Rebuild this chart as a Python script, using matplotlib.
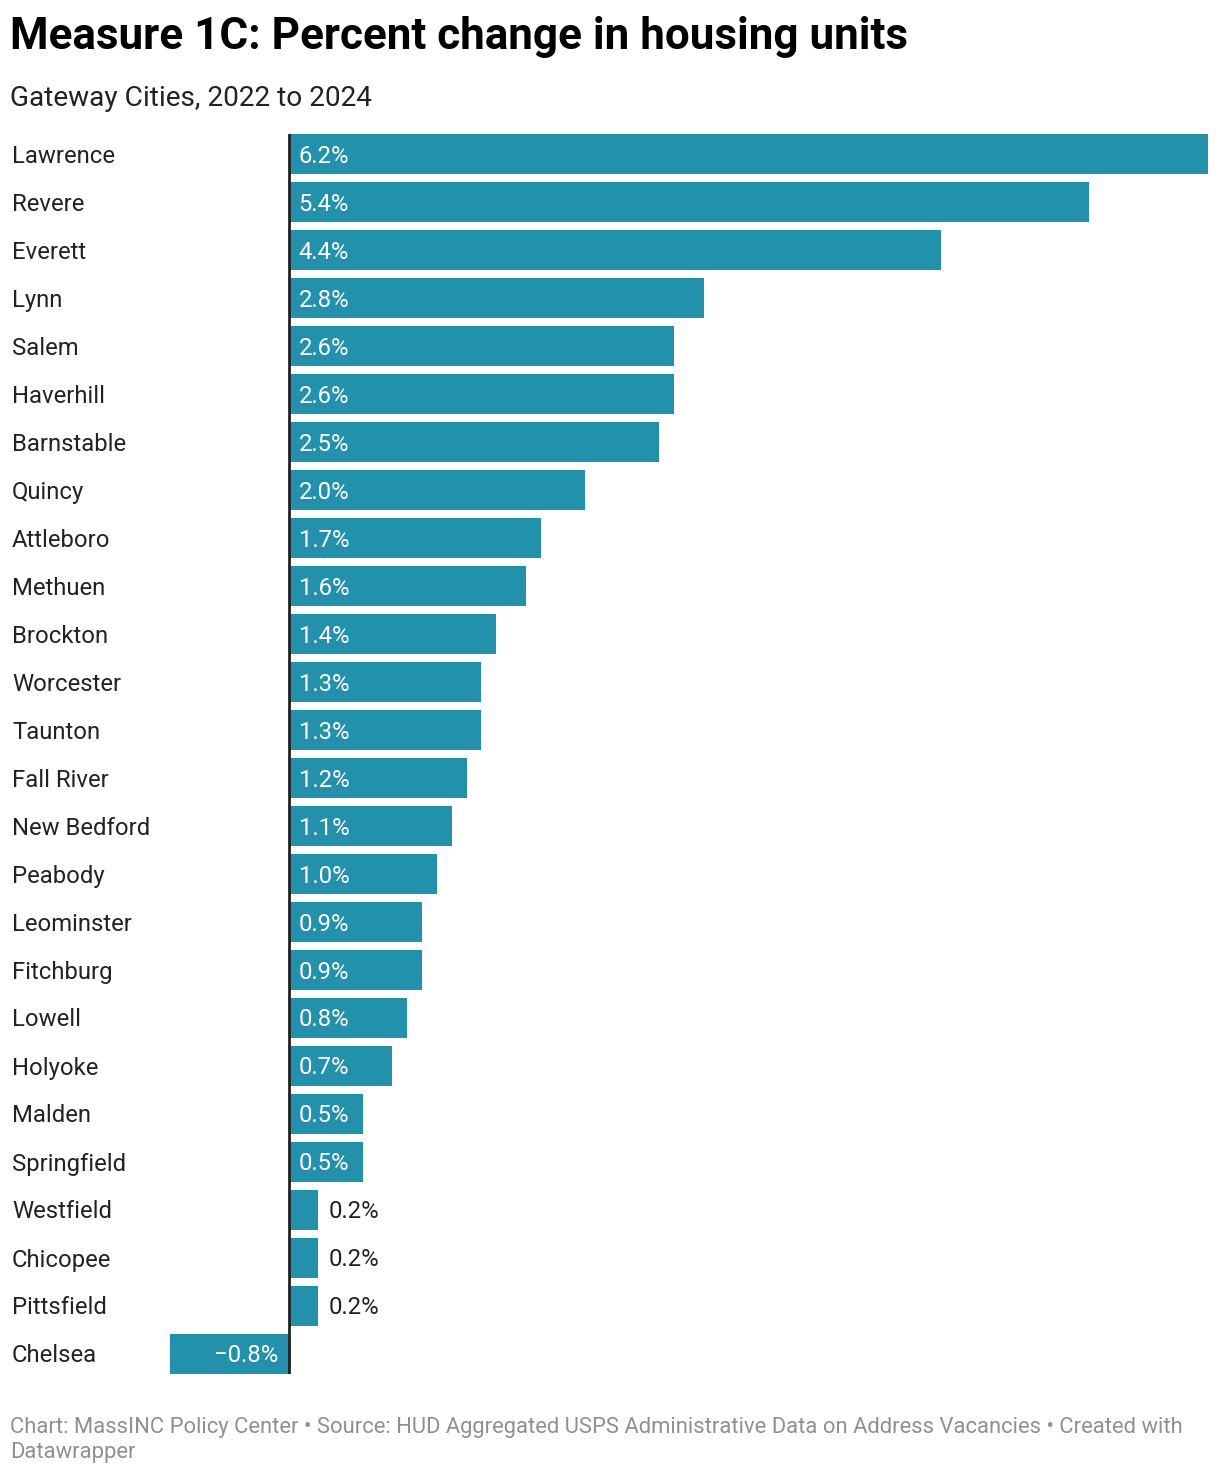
import matplotlib.pyplot as plt
import matplotlib.transforms as mtransforms

plt.rcParams['font.family'] = ['Roboto', 'DejaVu Sans']

cities = ["Lawrence", "Revere", "Everett", "Lynn", "Salem", "Haverhill",
          "Barnstable", "Quincy", "Attleboro", "Methuen", "Brockton",
          "Worcester", "Taunton", "Fall River", "New Bedford", "Peabody",
          "Leominster", "Fitchburg", "Lowell", "Holyoke", "Malden",
          "Springfield", "Westfield", "Chicopee", "Pittsfield", "Chelsea"]
change = [6.2, 5.4, 4.4, 2.8, 2.6, 2.6, 2.5, 2.0, 1.7, 1.6, 1.4, 1.3, 1.3,
          1.2, 1.1, 1.0, 0.9, 0.9, 0.8, 0.7, 0.5, 0.5, 0.2, 0.2, 0.2, -0.8]

W, H = 1220, 1476
bar_color = "#2390ac"
fig = plt.figure(figsize=(W / 100, H / 100), dpi=100)

# axes placed in pixel terms: x 170..1208, y 134..1374
ax = fig.add_axes([170 / W, 1 - 1374 / H, 1038 / W, 1240 / H])
ypos = list(range(len(cities)))
ax.barh(ypos, change, height=40 / 48, color=bar_color)
ax.set_xlim(-0.8, 6.2)
ax.set_ylim(len(cities) - 1 + 20 / 48, -20 / 48)
ax.axvline(0, color="#222222", lw=2)
ax.axis("off")

px = ax.transData.transform((1, 0))[0] - ax.transData.transform((0, 0))[0]
dpi_tr = fig.dpi_scale_trans
down = -2 / 100
off = mtransforms.ScaledTranslation(10 / 100, down, dpi_tr)
off_neg = mtransforms.ScaledTranslation(-10 / 100, down, dpi_tr)
off_lab = mtransforms.ScaledTranslation(0, down, dpi_tr)
lab_tr = mtransforms.blended_transform_factory(fig.transFigure, ax.transData)
fs = 17.2

for y, name, v in zip(ypos, cities, change):
    ax.text(12 / W, y, name, transform=lab_tr + off_lab, ha="left",
            va="center", fontsize=fs, color="#222222")
    txt = f"{v:.1f}%".replace("-", "\u2212")
    if v < 0:
        ax.text(0, y, txt, transform=ax.transData + off_neg, ha="right",
                va="center", fontsize=fs, color="white")
    elif v * px > 70:
        ax.text(0, y, txt, transform=ax.transData + off, ha="left",
                va="center", fontsize=fs, color="white")
    else:
        ax.text(v, y, txt, transform=ax.transData + off, ha="left",
                va="center", fontsize=fs, color="#222222")

fig.text(10 / W, 1 - 37 / H, "Measure 1C: Percent change in housing units",
         fontsize=31.7, fontweight="bold", color="black", va="center")
fig.text(10 / W, 1 - 98 / H, "Gateway Cities, 2022 to 2024",
         fontsize=20.2, color="#222222", va="center")
fig.text(10 / W, 1 - 1440 / H,
         "Chart: MassINC Policy Center \u2022 Source: HUD Aggregated USPS Administrative Data on Address Vacancies \u2022 Created with\nDatawrapper",
         fontsize=15.8, color="#909090", va="center", linespacing=1.28)

fig.savefig("out.png", dpi=100)
